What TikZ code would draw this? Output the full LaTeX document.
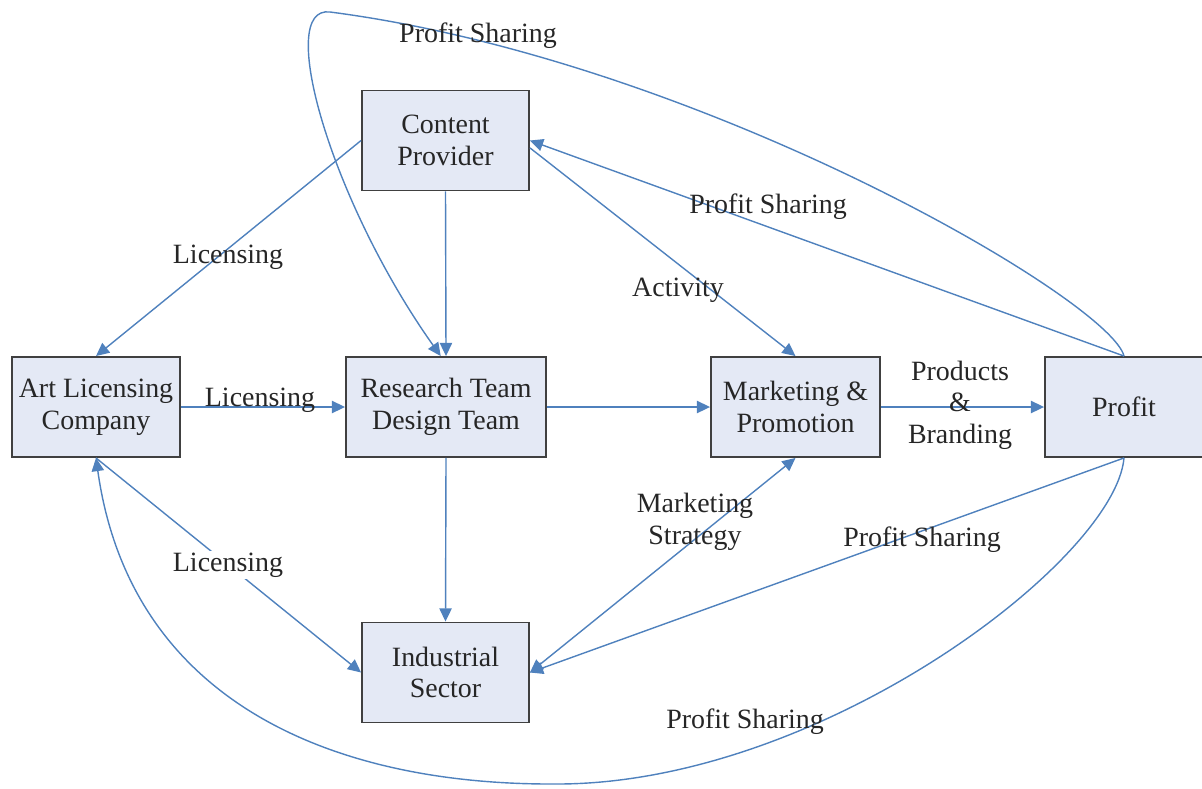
\documentclass[tikz,border=0pt]{standalone}
\usepackage[dvipsnames]{xcolor}
\usepackage{fontspec}
\setmainfont{Liberation Serif}
\usetikzlibrary{arrows.meta}

\definecolor{linkblue}{HTML}{4F81BD}
\definecolor{boxfill}{HTML}{E4E9F5}

\begin{document}
\begin{tikzpicture}[x=0.02cm,y=-0.02cm,>={Triangle[length=7.5pt,width=7pt]},
    every node/.style={font=\fontsize{15.9}{18}\selectfont,text=black!85},
    box/.style={rectangle,draw=black!75,line width=1.1pt,fill=boxfill,align=center,minimum height=2cm},
    link/.style={draw=linkblue,line width=0.8pt,->},
    lbl/.style={align=center,inner sep=1pt}]

            \useasboundingbox (0,0) rectangle (1202,788);

            % boxes
            \node[box, minimum width=3.34cm]  (cp)  at (445.5,140.5) {Content\\Provider};
            \node[box, minimum width=3.36cm]  (alc) at (96,407)      {Art Licensing\\Company};
            \node[box, minimum width=4cm]     (rt)  at (446,407)     {Research Team\\Design Team};
            \node[box, minimum width=3.38cm]  (mp)  at (795.5,407)   {Marketing \&\\Promotion};
            \node[box, minimum width=3.16cm]  (pf)  at (1124,407)    {Profit};
            \node[box, minimum width=3.34cm]  (is)  at (445.5,672.5) {Industrial\\Sector};

            % straight links
            \draw[link] (cp.west) to (alc.north);
            \draw[link] (cp.south) to (rt.north);
            \draw[link] (cp.-5) to (mp.north);
            \draw[link] (pf.north) to (cp.east);
            \draw[link] (alc.east) to (rt.west);
            \draw[link] (rt.east) to (mp.west);
            \draw[link] (mp.east) to (pf.west);
            \draw[link] (rt.south) to (is.north);
            \draw[link] (alc.south) to (is.west);
            \draw[link,<->] (is.east) to (mp.south);
            \draw[link] (pf.south) to (is.east);

            % long profit loops
            \draw[link] (pf.north) .. controls (1110,300) and (700,60) .. (330,12)
                .. controls (275,5) and (330,200) .. ([xshift=-3pt]rt.north);
            \draw[link] (pf.south) .. controls (1115,560) and (820,785) .. (555,784)
                .. controls (330,785) and (130,700) .. (alc.south);

            % labels
            \node[lbl] (l1) at (478,36)  {Profit Sharing};
            \node[lbl] (l2) at (768,207) {Profit Sharing};
            \node[lbl] (l3) at (228,257) {Licensing};
            \node[lbl] (l4) at (678,290) {Activity};
            \node[lbl] (l5) at (260,400) {Licensing};
            \node[lbl] (l6) at (960,405) {Products\\\&\\Branding};
            \node[lbl, fill=white] (l7) at (228,565) {Licensing};
            \node[lbl] (l8) at (695,522) {Marketing\\Strategy};
            \node[lbl] (l9) at (922,540) {Profit Sharing};
            \node[lbl] (l10) at (745,722) {Profit Sharing};

        \end{tikzpicture}
\end{document}
